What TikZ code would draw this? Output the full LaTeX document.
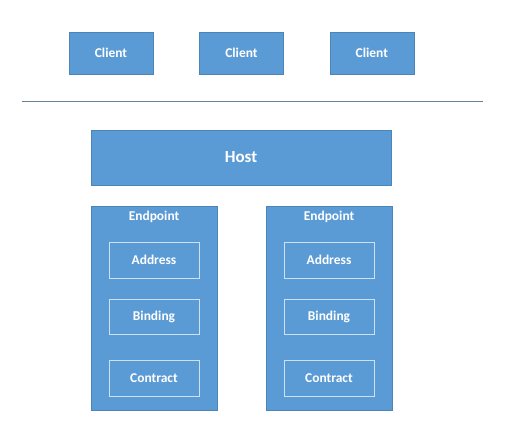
\documentclass[tikz,border=0pt]{standalone}
\usepackage{fontspec}
\setmainfont{Carlito}
\usetikzlibrary{positioning}
\definecolor{Blue}{RGB}{91,155,213}
\definecolor{Edge}{RGB}{76,133,186}
\definecolor{Rule}{RGB}{105,128,152}
\definecolor{Pale}{RGB}{205,225,243}
\begin{document}
\begin{tikzpicture}[x=1bp,y=-1bp,node distance=46bp,
 box/.style={draw=Edge,line width=.4bp,fill=Blue,text=white,font=\fontsize{13.5}{15}\selectfont\bfseries,inner sep=0pt},
 client/.style={box,minimum width=84bp,minimum height=42bp},
 ep/.style={box,minimum width=126bp,minimum height=204bp},
 part/.style={draw=Pale,line width=.5bp,text=white,font=\fontsize{13.5}{15}\selectfont\bfseries,minimum width=90bp,minimum height=36bp,inner sep=0pt}]
\useasboundingbox[fill=white] (0,0) rectangle (508,429);
% clients
\node[client] (c1) at (111,53) {Client};
\node[client,right=of c1] (c2) {Client};
\node[client,right=of c2] (c3) {Client};
\coordinate (rl) at (22,101);
\coordinate (rr) at (483,101);
\draw[Rule,line width=.8bp] (rl) -- (rr);
% host
\node[box,minimum width=300bp,minimum height=55bp,font=\fontsize{17}{19}\selectfont\bfseries] (h) at (241,157.5) {Host};
% endpoints
\node[ep] (e1) at (154,308) {};
\node[ep] (e2) at (329,308) {};
\node[below=5bp of e1.north,text=white,font=\fontsize{13.5}{15}\selectfont\bfseries,inner sep=0pt] (t1) {Endpoint};
\node[below=5bp of e2.north,text=white,font=\fontsize{13.5}{15}\selectfont\bfseries,inner sep=0pt] (t2) {Endpoint};
\node[part] (a1) at (154,260) {Address};
\node[part,minimum height=35bp] (b1) at (154,316.5) {Binding};
\node[part] (k1) at (154,378) {Contract};
\node[part] (a2) at (329,260) {Address};
\node[part,minimum height=35bp] (b2) at (329,316.5) {Binding};
\node[part] (k2) at (329,378) {Contract};
\end{tikzpicture}
\end{document}
